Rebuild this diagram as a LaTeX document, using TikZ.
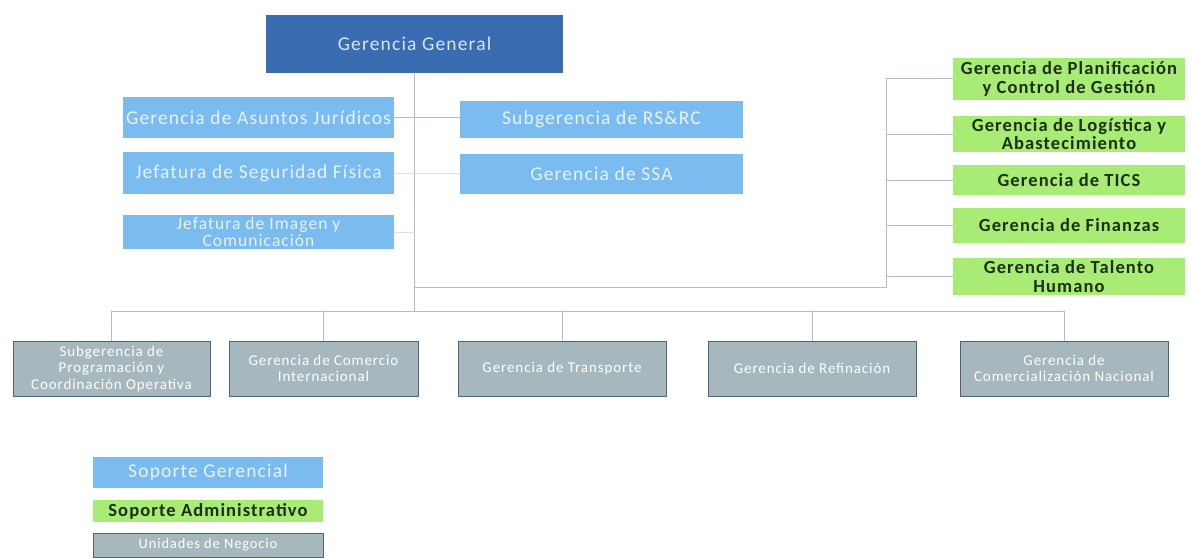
\documentclass[tikz,border=0pt]{standalone}
\usepackage{fontspec}
\setmainfont{Carlito}[LetterSpace=6]

\definecolor{ggblue}{RGB}{58,108,178}
\definecolor{ggtext}{RGB}{215,230,245}
\definecolor{skyblue}{RGB}{122,188,240}
\definecolor{skytext}{RGB}{232,242,252}
\definecolor{admgreen}{RGB}{168,236,118}
\definecolor{admtext}{RGB}{28,48,22}
\definecolor{unitgray}{RGB}{166,183,190}
\definecolor{unitedge}{RGB}{78,98,128}
\definecolor{linkgray}{RGB}{176,190,204}

\tikzset{
  box/.style={rectangle, inner sep=0pt, align=center},
  general/.style={box, fill=ggblue, text=ggtext, font=\fontsize{19.5}{21}\selectfont},
  soporte/.style={box, fill=skyblue, text=skytext, font=\fontsize{19.5}{19}\selectfont},
  admin/.style={box, fill=admgreen, text=admtext, font=\bfseries\fontsize{18.5}{18.5}\selectfont},
  unidad/.style={box, fill=unitgray, draw=unitedge, line width=0.8pt, text=white, font=\fontsize{15}{16.5}\selectfont},
  link/.style={draw=linkgray, line width=1pt},
  faint/.style={draw=linkgray!45, line width=1pt}
}

\begin{document}
\begin{tikzpicture}[x=1pt, y=-1pt, line cap=round, line join=round]
    % Variables for easy adjustment
    \def\busy{311}   % height of the bus to the business units
    \def\greenx{886} % vertical line of the administrative column

    \useasboundingbox (0,0) rectangle (1193,559);

    % Top of the chart
    \node[general, minimum width=297pt, minimum height=58pt] (general) at (414.5,44) {Gerencia General};

    % Management support, left column
    \node[soporte, minimum width=271pt, minimum height=41pt] (juridicos) at (258.5,117.5) {Gerencia de Asuntos Jurídicos};
    \node[soporte, minimum width=271pt, minimum height=42pt] (seguridad) at (258.5,173) {Jefatura de Seguridad Física};
    \node[soporte, minimum width=271pt, minimum height=34pt, font=\fontsize{17.5}{17.5}\selectfont] (imagen) at (258.5,232) {Jefatura de Imagen y\\Comunicación};

    % Management support, right column
    \node[soporte, minimum width=283pt, minimum height=37pt] (rsrc) at (601.5,119.5) {Subgerencia de RS\&RC};
    \node[soporte, minimum width=283pt, minimum height=40pt] (ssa) at (601.5,174) {Gerencia de SSA};

    % Administrative support
    \node[admin, minimum width=232pt, minimum height=42pt] (planif) at (1069,79) {Gerencia de Planificación\\y Control de Gestión};
    \node[admin, minimum width=232pt, minimum height=36pt] (logist) at (1069,134) {Gerencia de Logística y\\Abastecimiento};
    \node[admin, minimum width=232pt, minimum height=30pt] (tics) at (1069,180) {Gerencia de TICS};
    \node[admin, minimum width=232pt, minimum height=35pt] (finanzas) at (1069,225.5) {Gerencia de Finanzas};
    \node[admin, minimum width=232pt, minimum height=37pt] (talento) at (1069,276.5) {Gerencia de Talento\\Humano};

    % Business units
    \node[unidad, minimum width=197pt, minimum height=55pt] (progr) at (111.5,368.5) {Subgerencia de\\Programación y\\Coordinación Operativa};
    \node[unidad, minimum width=189pt, minimum height=55pt] (comint) at (323.5,368.5) {Gerencia de Comercio\\Internacional};
    \node[unidad, minimum width=208pt, minimum height=55pt] (transp) at (562,368.5) {Gerencia de Transporte};
    \node[unidad, minimum width=208pt, minimum height=55pt] (refin) at (812,368.5) {Gerencia de Refinación};
    \node[unidad, minimum width=208pt, minimum height=55pt] (comnac) at (1064,368.5) {Gerencia de\\Comercialización Nacional};

    % Legend
    \node[soporte, minimum width=230pt, minimum height=31pt] (leysop) at (208,472.5) {Soporte Gerencial};
    \node[admin, minimum width=230pt, minimum height=22pt] (leyadm) at (208,511) {Soporte Administrativo};
    \node[unidad, minimum width=230pt, minimum height=24pt, font=\fontsize{14.5}{15}\selectfont] (leyuni) at (208,545) {Unidades de Negocio};

    % Central axis and bus
    \coordinate (axis) at (general.south |- 0,\busy);
    \draw[link] (general.south) -- (axis);
    \draw[link] (progr.north |- axis) -- (comnac.north |- axis);
    \foreach \u in {progr, comint, transp, refin, comnac}
        \draw[link] (\u.north |- axis) -- (\u.north);

    % Staff connectors
    \draw[link] (juridicos.east) -- (juridicos.east -| rsrc.west);
    \draw[faint] (seguridad.east) -- (seguridad.east -| ssa.west);
    \draw[faint] (imagen.east) -- (imagen.east -| general.south);

    % Administrative bracket
    \coordinate (gtop) at (\greenx,79);
    \coordinate (gbot) at (\greenx,287);
    \draw[link] (gtop) -- (gbot) -- (gbot -| general.south);
    \foreach \g in {planif, logist, tics, finanzas, talento}
        \draw[link] (\g.west -| gtop) -- (\g.west);

\end{tikzpicture}
\end{document}
